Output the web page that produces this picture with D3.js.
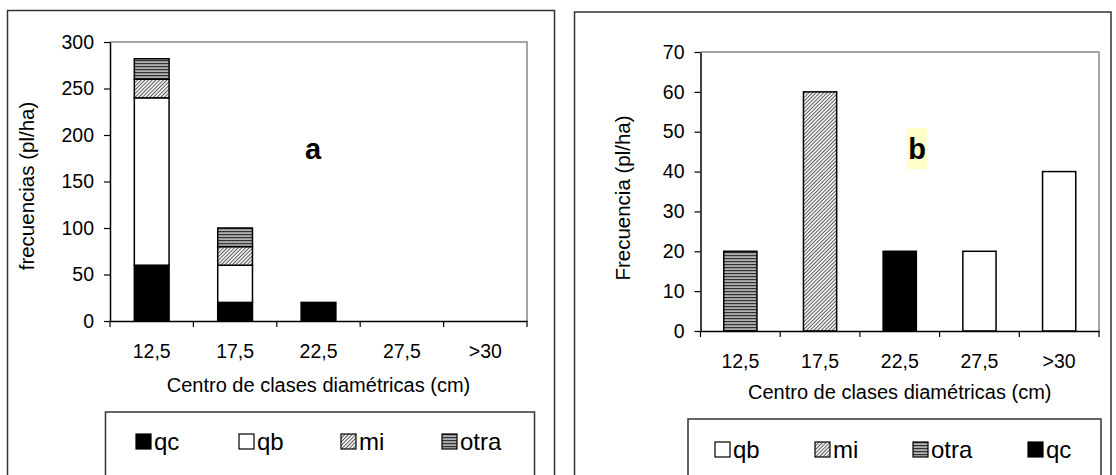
<!DOCTYPE html>
<html>
<head>
<meta charset="utf-8">
<script src="https://cdn.jsdelivr.net/npm/d3@7"></script>
<style>
  body { margin: 0; background: #fff; }
  svg text { font-family: Arial, "Liberation Sans", sans-serif; fill: #000; }
</style>
</head>
<body>
<svg id="chart" width="1116" height="475"></svg>
<script>
// categories (centre of diameter classes)
const classes = ["12,5", "17,5", "22,5", "27,5", ">30"];

// panel a: stacked frequencies (pl/ha), bottom to top
const seriesA = ["qc", "qb", "mi", "otra"];
const qcA   = [60, 20, 20, 0, 0];
const qbA   = [180, 40, 0, 0, 0];
const miA   = [20, 20, 0, 0, 0];
const otraA = [22, 20, 0, 0, 0];
const ticksA = [0, 50, 100, 150, 200, 250, 300];

// panel b: frequencies (pl/ha)
const seriesB = ["qb", "mi", "otra", "qc"];
const qbB   = [0, 0, 0, 20, 40];
const miB   = [0, 60, 0, 0, 0];
const otraB = [20, 0, 0, 0, 0];
const qcB   = [0, 0, 20, 0, 0];
const ticksB = [0, 10, 20, 30, 40, 50, 60, 70];

const svg = d3.select("#chart");

// fill patterns like the old excel ones
const defs = svg.append("defs");
const hatch = defs.append("pattern")
  .attr("id", "pat-mi").attr("patternUnits", "userSpaceOnUse")
  .attr("width", 2.6).attr("height", 10)
  .attr("patternTransform", "rotate(45)");
hatch.append("rect").attr("width", 2.6).attr("height", 10).attr("fill", "#f2f2f2");
hatch.append("rect").attr("width", 0.9).attr("height", 10).attr("fill", "#555");

const stripes = defs.append("pattern")
  .attr("id", "pat-otra").attr("patternUnits", "userSpaceOnUse")
  .attr("width", 4).attr("height", 3);
stripes.append("rect").attr("width", 4).attr("height", 3).attr("fill", "#b0b0b0");
stripes.append("rect").attr("width", 4).attr("height", 1.2).attr("fill", "#333");

const fills = { qc: "#000", qb: "#fff", mi: "url(#pat-mi)", otra: "url(#pat-otra)" };

function panel(opt) {
  const g = svg.append("g");

  // outer frame
  g.append("rect")
    .attr("x", opt.frame[0]).attr("y", opt.frame[1])
    .attr("width", opt.frame[2] - opt.frame[0]).attr("height", 500)
    .attr("fill", "none").attr("stroke", "#333").attr("stroke-width", 1.5);

  const x = d3.scaleBand().domain(classes).range([opt.x0, opt.x1]).padding(0);
  const y = d3.scaleLinear().domain(opt.domain).range([opt.y1, opt.y0]);
  const barW = x.bandwidth() / 2.4;

  // plot area border (top/right grey)
  g.append("path")
    .attr("d", `M${opt.x0},${opt.y0} H${opt.x1} V${opt.y1}`)
    .attr("fill", "none").attr("stroke", "#888").attr("stroke-width", 1.5);

  // stacked bars
  const rows = classes.map((c, i) => {
    const r = { cls: c };
    opt.series.forEach((s, k) => r[s] = opt.values[k][i]);
    return r;
  });
  const stacked = d3.stack().keys(opt.series)(rows);

  g.selectAll("g.layer").data(stacked).enter().append("g")
    .attr("class", "layer")
    .attr("fill", d => fills[d.key])
    .selectAll("rect").data(d => d.filter(p => p[1] - p[0] > 0)).enter()
    .append("rect")
      .attr("x", d => x(d.data.cls) + (x.bandwidth() - barW) / 2)
      .attr("y", d => y(d[1]))
      .attr("width", barW)
      .attr("height", d => y(d[0]) - y(d[1]))
      .attr("stroke", "#000").attr("stroke-width", 1.5);

  // y axis
  const ya = g.append("g").attr("transform", `translate(${opt.x0},0)`)
    .call(d3.axisLeft(y).tickValues(opt.ticks).tickSize(6).tickPadding(10).tickSizeOuter(0));
  ya.select(".domain").attr("stroke", "#000").attr("stroke-width", 1.5);
  ya.selectAll(".tick line").attr("stroke", "#000").attr("stroke-width", 1.2);
  ya.selectAll("text").style("font-size", "19.5px");

  // x axis
  const xa = g.append("g").attr("transform", `translate(0,${opt.y1})`)
    .call(d3.axisBottom(x).tickSize(0).tickPadding(23));
  xa.select(".domain").attr("stroke", "#000").attr("stroke-width", 1.5);
  xa.selectAll("text").style("font-size", "19.5px");
  xa.selectAll("line.sep").data(classes.map(c => x(c)).concat([opt.x1])).enter()
    .append("line").attr("class", "sep")
    .attr("x1", d => d).attr("x2", d => d).attr("y1", 0).attr("y2", 6)
    .attr("stroke", "#000").attr("stroke-width", 1.2);

  // axis titles
  g.append("text")
    .attr("x", (opt.x0 + opt.x1) / 2).attr("y", opt.xTitleY)
    .attr("text-anchor", "middle").style("font-size", "20px")
    .text("Centro de clases diamétricas (cm)");
  g.append("text")
    .attr("transform", `translate(${opt.yTitleX},${opt.yTitleY}) rotate(-90)`)
    .attr("text-anchor", "middle").style("font-size", "20.5px")
    .text(opt.yTitle);

  // panel letter
  if (opt.hl) {
    g.append("rect").attr("x", opt.hl[0]).attr("y", opt.hl[1])
      .attr("width", opt.hl[2]).attr("height", opt.hl[3]).attr("fill", "#ffffc8");
  }
  g.append("text")
    .attr("x", opt.letterX).attr("y", 159)
    .attr("text-anchor", "middle")
    .style("font-size", "29px").style("font-weight", "bold")
    .text(opt.letter);

  // legend
  const lg = opt.legend;
  g.append("rect")
    .attr("x", lg.x0).attr("y", lg.y)
    .attr("width", lg.x1 - lg.x0).attr("height", 120)
    .attr("fill", "#fff").attr("stroke", "#333").attr("stroke-width", 1.5);
  const items = g.selectAll("g.leg").data(lg.order).enter().append("g")
    .attr("class", "leg")
    .attr("transform", (d, i) => `translate(${lg.pos[i]},${lg.y + lg.dy})`);
  items.append("rect")
    .attr("width", 15).attr("height", 15)
    .attr("fill", d => fills[d]).attr("stroke", "#000").attr("stroke-width", 1.2);
  items.append("text")
    .attr("x", 18).attr("y", 16)
    .style("font-size", "24px")
    .text(d => d);
}

panel({
  frame: [7.5, 10.5, 554.5],
  x0: 110, x1: 527, y0: 42, y1: 321,
  domain: [0, 300], ticks: ticksA,
  series: seriesA, values: [qcA, qbA, miA, otraA],
  yTitle: "frecuencias (pl/ha)", yTitleX: 34, yTitleY: 186,
  xTitleY: 392,
  letter: "a", letterX: 313,
  legend: { x0: 105.5, x1: 534.5, y: 412, dy: 22, order: ["qc", "qb", "mi", "otra"], pos: [136, 239, 341, 442] }
});

panel({
  frame: [574.5, 12, 1111],
  x0: 700.5, x1: 1099, y0: 52, y1: 331,
  domain: [0, 70], ticks: ticksB,
  series: seriesB, values: [qbB, miB, otraB, qcB],
  yTitle: "Frecuencia (pl/ha)", yTitleX: 630, yTitleY: 198,
  xTitleY: 399,
  letter: "b", letterX: 917, hl: [907, 128, 20, 41],
  legend: { x0: 688, x1: 1101, y: 419, dy: 23, order: ["qb", "mi", "otra", "qc"], pos: [715, 815, 913, 1028] }
});
</script>
</body>
</html>
